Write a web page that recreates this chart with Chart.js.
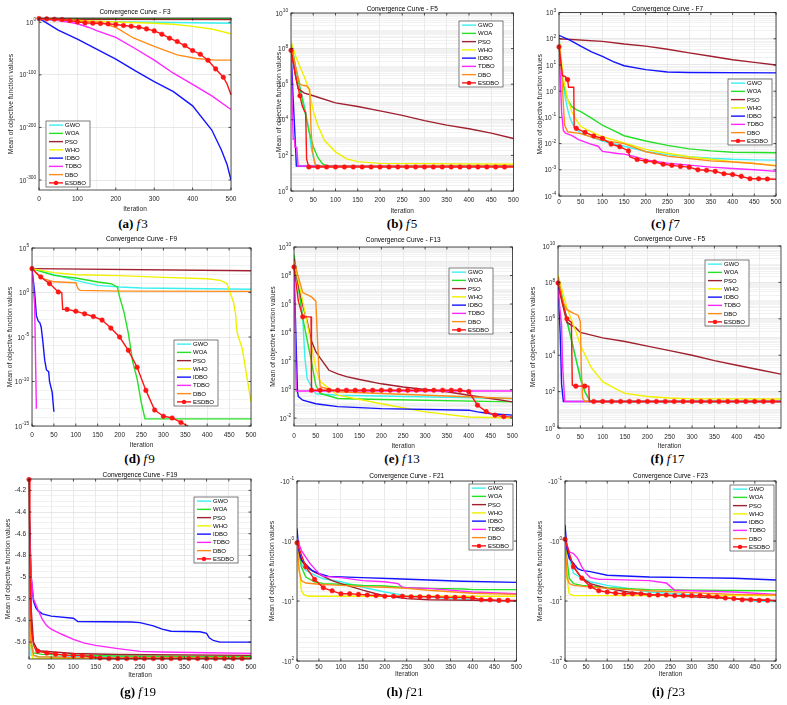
<!DOCTYPE html>
<html>
<head>
<meta charset="utf-8">
<script src="https://cdn.jsdelivr.net/npm/chart.js@4.4.1/dist/chart.umd.min.js"></script>
<style>
  body { margin: 0; background: #fff; width: 787px; height: 705px; position: relative; overflow: hidden; }
  canvas { position: absolute; }
  .cap { position: absolute; font-family: "Liberation Serif", "Times New Roman", serif; font-size: 13px;
         color: #000; white-space: nowrap; transform: translate(-50%, -50%); }
</style>
</head>
<body>
<script>
const algorithms = ["GWO", "WOA", "PSO", "WHO", "IDBO", "TDBO", "DBO", "ESDBO"];

// [iteration, log10(mean objective value)]; order follows `algorithms`
const f3 = [
  [[0,7],[20,4],[100,2],[300,0],[500,-2]],
  [[0,7],[500,6.8]],
  [[0,7],[100,5.5],[500,5]],
  [[0,7],[100,3.5],[200,0.5],[300,-2],[350,-4],[400,-8],[450,-13],[500,-22]],
  [[0,7],[10,3],[50,-15],[100,-32],[150,-51],[200,-70],[250,-92],[300,-113],[350,-132],[400,-159],[450,-205],[475,-243],[490,-271],[500,-300]],
  [[0,7],[50,3],[80,0],[100,-3],[130,-10],[150,-16],[200,-29],[250,-50],[300,-72],[350,-97],[400,-118],[450,-140],[500,-166]],
  [[0,7],[100,2],[160,0],[200,-10],[246,-30],[300,-46],[360,-62],[410,-69],[460,-72],[500,-72]],
  [[0,7],[20,6.3],[40,5.7],[60,5.1],[80,3.2],[100,0.6],[120,-1.3],[140,-1.9],[160,-2.5],[180,-3.2],[200,-4.4],[220,-6.3],[240,-7.6],[260,-9.5],[280,-12.7],[300,-16.5],[320,-22.8],[340,-30.4],[360,-36.8],[380,-44.4],[400,-53.9],[420,-60.9],[440,-72.3],[460,-88.8],[480,-104.6],[490,-118],[500,-138]]
];
const f5 = [
  [[0,8.3],[10,7],[20,5.8],[30,4.8],[40,3.5],[45,2.5],[50,1.9],[55,1.5],[60,1.4],[500,1.4]],
  [[0,8.4],[10,7],[20,5.8],[30,4.6],[40,3.4],[50,2.5],[60,1.9],[70,1.55],[80,1.4],[500,1.4]],
  [[0,8],[10,6.5],[16,5.75],[30,5.5],[50,5.35],[100,4.95],[150,4.75],[200,4.5],[250,4.25],[300,3.95],[350,3.7],[400,3.5],[450,3.25],[500,2.95]],
  [[0,8.4],[10,7.6],[20,7],[30,6.4],[40,5.75],[50,4.5],[60,3.7],[75,2.85],[100,2.2],[125,1.8],[150,1.65],[200,1.55],[500,1.5]],
  [[0,8],[5,5.1],[10,2.6],[12,1.4],[500,1.4]],
  [[0,8],[3,4.5],[5,2.9],[8,2.9],[9,2.45],[13,2.45],[16,1.4],[500,1.4]],
  [[0,8.2],[10,7],[20,6],[25,5.95],[35,5.9],[42,5.7],[45,3.5],[48,2.3],[55,1.4],[500,1.4]],
  [[0,7.9],[10,6.5],[20,5.35],[25,4.8],[30,4.5],[33,4.4],[35,1.8],[40,1.35],[60,1.35],[80,1.35],[100,1.35],[120,1.35],[140,1.35],[160,1.35],[180,1.35],[200,1.35],[220,1.35],[240,1.35],[260,1.35],[280,1.35],[300,1.35],[320,1.35],[340,1.35],[360,1.35],[380,1.35],[400,1.35],[420,1.35],[440,1.35],[460,1.35],[480,1.35],[500,1.35]]
];
const f7 = [
  [[0,2.1],[5,1.0],[10,0.2],[15,-0.3],[20,-0.7],[25,-1.0],[30,-1.2],[40,-1.45],[50,-1.6],[75,-1.75],[100,-1.9],[150,-2.1],[200,-2.3],[250,-2.42],[300,-2.5],[350,-2.56],[400,-2.6],[450,-2.62],[500,-2.63]],
  [[0,2.1],[4,1.0],[10,0.3],[20,-0.33],[30,-0.6],[40,-0.7],[50,-0.78],[75,-1.03],[100,-1.3],[125,-1.5],[150,-1.7],[200,-1.9],[250,-2.07],[300,-2.2],[350,-2.28],[400,-2.33],[500,-2.35]],
  [[0,2.0],[100,1.9],[150,1.8],[200,1.72],[250,1.6],[300,1.46],[350,1.33],[400,1.2],[450,1.1],[500,1.0]],
  [[0,2.0],[10,0.5],[20,-0.3],[30,-0.8],[40,-1.1],[50,-1.35],[75,-1.55],[100,-1.74],[150,-1.97],[200,-2.22],[250,-2.37],[300,-2.5],[350,-2.6],[400,-2.69],[450,-2.76],[500,-2.83]],
  [[0,2.13],[25,1.95],[50,1.72],[75,1.5],[100,1.33],[125,1.13],[150,0.97],[200,0.82],[250,0.73],[300,0.71],[500,0.7]],
  [[0,1.9],[3,0.5],[6,-0.8],[10,-1.5],[15,-1.6],[30,-1.7],[45,-1.85],[70,-2.0],[90,-2.1],[100,-2.3],[135,-2.38],[150,-2.4],[175,-2.5],[200,-2.62],[250,-2.75],[300,-2.82],[350,-2.9],[400,-2.95],[450,-3.0],[500,-3.06]],
  [[0,2.0],[5,1.0],[10,-0.5],[13,-1.3],[20,-1.55],[50,-1.62],[75,-1.75],[100,-1.87],[150,-2.0],[200,-2.31],[250,-2.48],[300,-2.57],[350,-2.66],[400,-2.7],[450,-2.76],[500,-2.85]],
  [[0,1.69],[8,0.6],[15,0.55],[16,0.44],[20,0.44],[22,0.15],[34,0.15],[35,-1.38],[40,-1.42],[60,-1.57],[80,-1.71],[100,-1.8],[120,-2.02],[140,-2.12],[160,-2.28],[163,-2.5],[180,-2.61],[200,-2.67],[220,-2.7],[240,-2.79],[260,-2.83],[280,-2.87],[300,-2.9],[320,-3.0],[340,-3.02],[360,-3.06],[380,-3.15],[400,-3.18],[420,-3.25],[440,-3.34],[460,-3.34],[480,-3.35],[500,-3.36]]
];
const f9 = [
  [[0,2.68],[50,2.0],[100,1.37],[150,0.8],[200,0.62],[250,0.5],[500,0.36]],
  [[0,2.68],[50,1.93],[100,1.63],[150,1.18],[180,0.99],[195,0.62],[200,-0.5],[210,-2.2],[220,-4.6],[230,-7.8],[240,-9.7],[250,-12.5],[258,-14.2],[500,-14.2]],
  [[0,2.68],[500,2.45]],
  [[0,2.68],[50,2.23],[100,2.0],[200,1.9],[300,1.7],[400,1.55],[430,1.37],[445,1.0],[452,0.0],[460,-1.07],[465,-2.5],[467,-4.06],[470,-4.8],[480,-6.3],[490,-9.3],[500,-12.3]],
  [[0,2.68],[6,0.05],[10,-2.6],[14,-3.2],[18,-3.4],[21,-3.9],[25,-5.6],[29,-7.6],[33,-8.7],[38,-8.9],[40,-10],[46,-11.2],[50,-13.4]],
  [[0,2.68],[6,-1.44],[10,-13.05]],
  [[0,2.68],[20,1.63],[50,1.2],[100,1.1],[105,0.43],[110,0.24],[200,0.15],[500,0.13]],
  [[0,2.68],[20,1.74],[40,1.0],[60,0.06],[68,0.0],[70,-1.9],[80,-1.9],[100,-2.1],[120,-2.4],[140,-2.7],[160,-3.1],[180,-4.0],[200,-5.0],[220,-6.5],[240,-8.4],[260,-11.0],[280,-13.2],[300,-13.9],[320,-14.1],[340,-14.6],[356,-15.0]]
];
const f13 = [
  [[0,8.5],[10,7.3],[20,5.0],[25,2.2],[30,0.77],[40,0.2],[50,-0.3],[100,-0.4],[500,-0.63]],
  [[0,9.5],[20,5],[40,1.95],[50,0.3],[60,-0.28],[100,-0.63],[200,-0.7],[500,-0.87]],
  [[0,9.2],[10,7.35],[20,5.9],[30,4.8],[40,3.4],[50,2.65],[60,2.2],[80,1.35],[100,1.1],[120,0.9],[150,0.7],[200,0.4],[250,0.18],[300,0.0],[350,-0.16],[400,-0.4],[450,-0.63],[500,-0.87]],
  [[0,9.0],[20,6.2],[40,3.1],[50,1.5],[60,0.55],[100,-0.4],[200,-1.0],[300,-1.57],[400,-1.93],[500,-2.0]],
  [[0,8.5],[8,-0.16],[10,-0.5],[20,-0.75],[50,-1.0],[100,-1.2],[200,-1.34],[400,-1.45],[420,-1.57],[450,-1.7],[500,-1.8]],
  [[0,8.8],[5,-0.1],[500,-0.1]],
  [[0,9.0],[20,6.8],[40,6.5],[50,6.2],[55,2.65],[58,0.8],[60,0.2],[100,-0.16],[200,-0.28],[500,-0.63]],
  [[0,8.6],[10,6.2],[20,5.1],[39,5.1],[40,-0.05],[60,-0.05],[80,-0.05],[100,-0.05],[120,-0.05],[140,-0.05],[160,-0.05],[180,-0.05],[200,-0.05],[220,-0.05],[240,-0.05],[260,-0.05],[280,-0.05],[300,-0.05],[320,-0.05],[340,-0.05],[360,-0.05],[380,-0.05],[400,-0.15],[405,-0.4],[420,-1.1],[440,-1.55],[460,-1.8],[480,-1.9],[500,-1.92]]
];
const f17 = [
  [[0,8.2],[20,6.0],[40,3.8],[50,2.9],[60,2.0],[70,1.55],[75,1.46],[499,1.46]],
  [[0,8.4],[20,5.85],[40,3.8],[50,2.7],[60,2.0],[70,1.55],[75,1.46],[499,1.46]],
  [[0,7.85],[20,5.8],[40,5.5],[50,5.25],[100,4.95],[150,4.75],[200,4.5],[250,4.25],[300,4.0],[350,3.7],[400,3.45],[450,3.2],[499,2.96]],
  [[0,8.4],[20,6.6],[40,5.3],[50,4.55],[75,3.3],[100,2.55],[125,2.2],[150,1.9],[200,1.73],[250,1.65],[300,1.6],[499,1.59]],
  [[0,8.0],[5,5.1],[8,2.4],[12,1.46],[499,1.46]],
  [[0,7.6],[8,5.65],[10,3.6],[15,1.46],[499,1.46]],
  [[0,8.3],[10,7.0],[20,6.5],[35,6.3],[45,6.2],[50,5.85],[52,3.3],[55,1.64],[60,1.46],[499,1.46]],
  [[0,7.97],[10,6.9],[20,6.0],[30,5.8],[32,2.35],[40,2.3],[60,2.3],[69,2.3],[70,1.46],[80,1.46],[100,1.46],[120,1.46],[140,1.46],[160,1.46],[180,1.46],[200,1.46],[220,1.46],[240,1.46],[260,1.46],[280,1.46],[300,1.46],[320,1.46],[340,1.46],[360,1.46],[380,1.46],[400,1.46],[420,1.46],[440,1.46],[460,1.46],[480,1.46],[499,1.46]]
];
// f19 holds plain mean values (linear axis)
const f19 = [
  [[0,-4.3],[3,-5.4],[5,-5.72],[20,-5.733],[500,-5.738]],
  [[0,-4.3],[5,-5.6],[10,-5.7],[30,-5.713],[100,-5.72],[200,-5.729],[500,-5.735]],
  [[0,-4.2],[5,-5.3],[10,-5.6],[20,-5.68],[100,-5.705],[200,-5.715],[500,-5.723]],
  [[0,-4.3],[3,-5.6],[8,-5.745],[10,-5.752],[500,-5.752]],
  [[0,-4.35],[5,-5.0],[10,-5.22],[15,-5.28],[20,-5.31],[30,-5.34],[50,-5.36],[100,-5.38],[110,-5.41],[230,-5.415],[250,-5.42],[280,-5.45],[300,-5.48],[320,-5.5],[385,-5.505],[400,-5.52],[406,-5.56],[415,-5.585],[430,-5.6],[500,-5.6]],
  [[0,-4.5],[5,-5.0],[10,-5.2],[20,-5.3],[30,-5.39],[40,-5.45],[50,-5.48],[60,-5.5],[75,-5.53],[100,-5.575],[125,-5.61],[150,-5.63],[200,-5.66],[250,-5.686],[300,-5.692],[400,-5.698],[500,-5.704]],
  [[0,-4.2],[4,-5.6],[10,-5.72],[20,-5.735],[100,-5.745],[500,-5.748]],
  [[0,-4.1],[2,-4.8],[4,-5.3],[6,-5.5],[10,-5.62],[15,-5.67],[20,-5.683],[40,-5.701],[60,-5.711],[80,-5.72],[100,-5.723],[120,-5.725],[140,-5.735],[160,-5.747],[180,-5.752],[200,-5.752],[220,-5.752],[240,-5.752],[260,-5.752],[280,-5.752],[300,-5.752],[320,-5.752],[340,-5.752],[360,-5.752],[380,-5.752],[400,-5.752],[420,-5.752],[440,-5.752],[460,-5.752],[480,-5.752],[500,-5.752]]
];
// f21 / f23: values are negative, stored as log10(|mean|)
const f21 = [
  [[0,0.03],[10,0.38],[20,0.49],[40,0.57],[60,0.63],[100,0.68],[150,0.77],[200,0.85],[250,0.91],[300,0.93],[350,0.96],[400,0.98],[450,0.99],[500,1.0]],
  [[0,0.02],[10,0.43],[20,0.6],[40,0.68],[60,0.71],[100,0.72],[150,0.74],[200,0.75],[250,0.78],[300,0.79],[380,0.8],[400,0.81],[500,0.81]],
  [[0,0.1],[10,0.32],[20,0.43],[40,0.52],[60,0.59],[80,0.66],[100,0.71],[150,0.82],[180,0.88],[200,0.91],[250,0.96],[300,0.98],[400,0.99],[500,1.0]],
  [[0,0.05],[5,0.49],[10,0.82],[15,0.89],[25,0.92],[500,0.92]],
  [[0,-0.21],[4,0.16],[11,0.32],[34,0.49],[49,0.54],[72,0.59],[148,0.61],[223,0.63],[300,0.65],[375,0.67],[500,0.69]],
  [[0,-0.04],[10,0.16],[20,0.27],[30,0.38],[40,0.46],[50,0.54],[60,0.59],[100,0.61],[150,0.66],[200,0.68],[230,0.71],[240,0.77],[250,0.78],[300,0.79],[400,0.85],[500,0.88]],
  [[0,0.05],[5,0.49],[10,0.66],[20,0.7],[50,0.72],[100,0.74],[150,0.76],[200,0.77],[250,0.79],[300,0.82],[400,0.87],[500,0.89]],
  [[0,0.03],[20,0.43],[40,0.64],[60,0.78],[80,0.83],[100,0.88],[120,0.88],[140,0.89],[160,0.9],[180,0.91],[200,0.92],[220,0.92],[240,0.92],[260,0.93],[280,0.93],[300,0.93],[320,0.93],[340,0.94],[360,0.94],[380,0.94],[400,0.95],[420,0.98],[440,0.98],[460,0.99],[480,0.99],[500,0.99]]
];
const f23 = [
  [[0,0.0],[10,0.27],[20,0.54],[40,0.62],[60,0.68],[100,0.74],[150,0.79],[200,0.85],[300,0.9],[350,0.93],[400,0.96],[450,1.0],[500,1.01]],
  [[0,0.0],[10,0.62],[20,0.71],[40,0.74],[100,0.78],[200,0.81],[300,0.82],[500,0.83]],
  [[0,0.05],[20,0.43],[40,0.62],[60,0.71],[100,0.79],[150,0.85],[200,0.89],[300,0.93],[400,0.96],[500,0.99]],
  [[0,0.05],[5,0.65],[10,0.88],[20,0.91],[500,0.91]],
  [[0,-0.27],[5,0.15],[10,0.29],[20,0.37],[30,0.46],[40,0.49],[60,0.51],[100,0.57],[200,0.6],[300,0.61],[400,0.62],[500,0.65]],
  [[0,-0.04],[10,0.18],[20,0.21],[30,0.29],[40,0.43],[50,0.54],[60,0.61],[80,0.64],[100,0.64],[200,0.66],[240,0.7],[250,0.76],[260,0.82],[300,0.83],[400,0.85],[500,0.89]],
  [[0,0.0],[5,0.6],[10,0.71],[20,0.74],[50,0.76],[100,0.79],[200,0.83],[300,0.86],[360,0.88],[400,0.89],[500,0.9]],
  [[0,-0.03],[20,0.43],[40,0.62],[60,0.76],[80,0.83],[100,0.85],[120,0.87],[140,0.88],[160,0.88],[180,0.88],[200,0.9],[220,0.9],[240,0.9],[260,0.91],[280,0.91],[300,0.91],[320,0.91],[340,0.92],[360,0.93],[380,0.95],[400,0.96],[420,0.98],[440,0.98],[460,0.99],[480,0.99],[500,1.0]]
];

const lineColors = ["#3cf0f0", "#25e025", "#a0202e", "#f0f000", "#1414ff", "#ff26ff", "#ff8c1a", "#ff1414"];
const FONT = '"Liberation Sans", Arial, Helvetica, sans-serif';
const AXIS_COLOR = "#262626";

// page layout of each panel (plot box, text rows, legend box)
const panels = [
  { data: f3,  title: "Convergence Curve - F3",  cap: ["(a)", "3"],  col: 0, row: 0, L: 39,  T: 18,  R: 231, B: 190, titleY: 12,  yTitleX: 11.5, tickY: 199, iterY: 209,
    y: { kind: "log", min: -319, max: 8, labels: [-300, -200, -100, 0], minor: "none" }, xMax: 500, xStep: 100, legend: [46, 121] },
  { data: f5,  title: "Convergence Curve - F5",  cap: ["(b)", "5"],  col: 1, row: 0, L: 291, T: 13,  R: 517, B: 191, titleY: 9.5, yTitleX: 279, tickY: 200, iterY: 211,
    y: { kind: "log", min: 0, max: 10, every: 2, minor: "full" }, xMax: 500, xStep: 50, legend: [459, 21] },
  { data: f7,  title: "Convergence Curve - F7",  cap: ["(c)", "7"],  col: 2, row: 0, L: 559, T: 12.5, R: 776, B: 196, titleY: 9.3, yTitleX: 540, tickY: 202, iterY: 211,
    y: { kind: "log", min: -4, max: 3, every: 1, minor: "full" }, xMax: 500, xStep: 50, legend: [728, 79] },
  { data: f9,  title: "Convergence Curve - F9",  cap: ["(d)", "9"],  col: 0, row: 1, L: 32,  T: 248, R: 251, B: 426, titleY: 239, yTitleX: 10, tickY: 435, iterY: 445,
    y: { kind: "log", min: -15, max: 5, every: 5, minor: "decade" }, xMax: 500, xStep: 50, legend: [174, 340] },
  { data: f13, title: "Convergence Curve - F13", cap: ["(e)", "13"], col: 1, row: 1, L: 294, T: 247, R: 514, B: 426, titleY: 240, yTitleX: 273.5, tickY: 436, iterY: 446,
    y: { kind: "log", min: -2.56, max: 10, every: 2, minor: "full" }, xMax: 500, xStep: 50, legend: [449, 268] },
  { data: f17, title: "Convergence Curve - F5",  cap: ["(f)", "17"], col: 2, row: 1, L: 558, T: 246, R: 781, B: 428, titleY: 239, yTitleX: 533, tickY: 437, iterY: 446,
    y: { kind: "log", min: 0, max: 10, every: 2, minor: "full" }, xMax: 499, xStep: 50, legend: [705, 260] },
  { data: f19, title: "Convergence Curve - F19", cap: ["(g)", "19"], col: 0, row: 2, L: 29,  T: 479, R: 251, B: 659, titleY: 475, yTitleX: 8.5, tickY: 667, iterY: 675,
    y: { kind: "linear", min: -5.756, max: -4.095, step: 0.05, labelStep: 0.2 }, xMax: 500, xStep: 50, legend: [194, 497] },
  { data: f21, title: "Convergence Curve - F21", cap: ["(h)", "21"], col: 1, row: 2, L: 297, T: 481, R: 517, B: 661, titleY: 476, yTitleX: 272, tickY: 667, iterY: 674,
    y: { kind: "neglog", min: -1, max: 2, every: 1, minor: "full" }, xMax: 500, xStep: 50, legend: [469, 484] },
  { data: f23, title: "Convergence Curve - F23", cap: ["(i)", "23"], col: 2, row: 2, L: 565, T: 481, R: 776, B: 661, titleY: 476, yTitleX: 540, tickY: 667, iterY: 674,
    y: { kind: "neglog", min: -1, max: 2, every: 1, minor: "full" }, xMax: 500, xStep: 50, legend: [730, 485] }
];
const COL_X = [0, 262, 524];
const ROW_Y = [0, 235, 470];
const COL_W = [262, 262, 263];
const CAP_Y = [224, 459, 692];
const CANVAS_H = 216;

function isLabeledDecade(y, d) {
  return y.labels ? y.labels.includes(d) : d % y.every === 0;
}

function yTickValues(y) {
  const vals = [];
  if (y.kind === "linear") {
    for (let k = Math.ceil(y.min / y.step); k <= Math.floor(y.max / y.step); k++) vals.push(+(k * y.step).toFixed(4));
    return vals;
  }
  for (let d = Math.floor(y.min); d <= Math.ceil(y.max); d++) {
    const ms = y.minor === "full" ? [1, 2, 3, 4, 5, 6, 7, 8, 9] : [1];
    for (const m of ms) {
      const e = d + Math.log10(m);
      if (e < y.min - 1e-9 || e > y.max + 1e-9) continue;
      if (y.minor === "none" && !isLabeledDecade(y, d)) continue;
      vals.push(m * Math.pow(10, d));
    }
  }
  return vals;
}

// label text for a y tick; log labels keep the exponent after "^" so it can be drawn raised
function yTickLabel(y, v) {
  if (y.kind === "linear") {
    const r = v / y.labelStep;
    return Math.abs(r - Math.round(r)) < 1e-6 ? String(+v.toFixed(1)) : "";
  }
  const e = Math.log10(v);
  const d = Math.round(e);
  if (Math.abs(e - d) > 1e-6 || !isLabeledDecade(y, d)) return "";
  return (y.kind === "neglog" ? "-" : "") + "10^" + d;
}

// box legend drawn inside the plot area, MATLAB style
const boxLegend = {
  id: "boxLegend",
  afterDatasetsDraw(chart, args, opts) {
    const ctx = chart.ctx;
    const x0 = opts.x, y0 = opts.y, w = 44, h = 66, rowH = h / algorithms.length;
    ctx.save();
    ctx.fillStyle = "#fff";
    ctx.fillRect(x0, y0, w, h);
    ctx.strokeStyle = AXIS_COLOR;
    ctx.lineWidth = 0.6;
    ctx.strokeRect(x0, y0, w, h);
    ctx.font = "6px " + FONT;
    ctx.textBaseline = "middle";
    algorithms.forEach((name, i) => {
      const yy = y0 + rowH * (i + 0.5);
      ctx.strokeStyle = lineColors[i];
      ctx.lineWidth = 1.4;
      ctx.beginPath();
      ctx.moveTo(x0 + 3, yy);
      ctx.lineTo(x0 + 17, yy);
      ctx.stroke();
      if (name === "ESDBO") {
        ctx.fillStyle = lineColors[i];
        ctx.beginPath();
        ctx.arc(x0 + 10, yy, 2.2, 0, Math.PI * 2);
        ctx.fill();
      }
      ctx.fillStyle = "#000";
      ctx.fillText(name, x0 + 19, yy + 0.3);
    });
    ctx.restore();
  }
};

// full box around the axes, inward tick marks and y labels with raised exponents
const axesBox = {
  id: "axesBox",
  afterDraw(chart) {
    const { ctx, chartArea: a, scales } = chart;
    ctx.save();
    ctx.strokeStyle = AXIS_COLOR;
    ctx.lineWidth = 0.8;
    ctx.strokeRect(a.left, a.top, a.right - a.left, a.bottom - a.top);
    ctx.beginPath();
    scales.x.ticks.forEach(t => {
      if (!t.label) return;
      const p = scales.x.getPixelForValue(t.value);
      ctx.moveTo(p, a.bottom); ctx.lineTo(p, a.bottom - 2.5);
      ctx.moveTo(p, a.top); ctx.lineTo(p, a.top + 2.5);
    });
    scales.y.ticks.forEach(t => {
      if (!t.label) return;
      const p = scales.y.getPixelForValue(t.value);
      ctx.moveTo(a.left, p); ctx.lineTo(a.left + 2.5, p);
      ctx.moveTo(a.right, p); ctx.lineTo(a.right - 2.5, p);
    });
    ctx.stroke();

    ctx.fillStyle = AXIS_COLOR;
    ctx.textBaseline = "middle";
    const xr = a.left - 3;
    scales.y.ticks.forEach(t => {
      if (!t.label) return;
      const p = scales.y.getPixelForValue(t.value);
      const parts = String(t.label).split("^");
      if (parts.length === 1) {
        ctx.font = "6.5px " + FONT;
        ctx.textAlign = "right";
        ctx.fillText(parts[0], xr, p);
        return;
      }
      ctx.textAlign = "left";
      ctx.font = "4.8px " + FONT;
      const we = ctx.measureText(parts[1]).width;
      ctx.font = "6.5px " + FONT;
      const wb = ctx.measureText(parts[0]).width;
      const xs = xr - we - wb;
      ctx.fillText(parts[0], xs, p + 0.8);
      ctx.font = "4.8px " + FONT;
      ctx.fillText(parts[1], xs + wb + 0.2, p - 2.2);
    });
    ctx.restore();
  }
};

Chart.defaults.font.family = FONT;
Chart.defaults.color = AXIS_COLOR;

panels.forEach(p => {
  const x0 = COL_X[p.col], y0 = ROW_Y[p.row], W = COL_W[p.col];
  const canvas = document.createElement("canvas");
  canvas.width = W;
  canvas.height = CANVAS_H;
  canvas.style.left = x0 + "px";
  canvas.style.top = y0 + "px";
  document.body.appendChild(canvas);

  const cap = document.createElement("div");
  cap.className = "cap";
  cap.style.left = ((p.L + p.R) / 2 - 2) + "px";
  cap.style.top = CAP_Y[p.row] + "px";
  cap.innerHTML = "<b>" + p.cap[0] + "</b> <i>f</i>&#8202;" + p.cap[1];
  document.body.appendChild(cap);

  const bottom = y0 + CANVAS_H;
  const titleLH = 6.5;
  const tickLH = 6.5 * 1.2;
  const yTitleLH = 6.8 * 1.2;
  const yKind = p.y.kind;
  const yVals = yTickValues(p.y);
  const xVals = [];
  for (let v = 0; v <= p.xMax; v += 50) xVals.push(v);

  const datasets = p.data.map((pairs, i) => {
    const name = algorithms[i];
    return {
      label: name,
      data: pairs.map(([x, v]) => ({ x, y: yKind === "linear" ? v : Math.pow(10, v) })),
      borderColor: lineColors[i],
      backgroundColor: lineColors[i],
      borderWidth: 1.4,
      pointRadius: name === "ESDBO" ? (c => (c.raw && c.raw.x % 20 === 0 && c.raw.x <= 480 ? 2.3 : 0)) : 0,
      pointBorderWidth: 0.5,
      pointHoverRadius: 0,
      tension: 0,
      order: algorithms.length - 1 - i,
      clip: name === "ESDBO" ? 3 : undefined
    };
  });

  new Chart(canvas, {
    type: "line",
    data: { datasets },
    plugins: [boxLegend, axesBox],
    options: {
      responsive: false,
      animation: false,
      devicePixelRatio: 1,
      events: [],
      layout: { padding: { left: 0, top: 0, bottom: 0, right: x0 + W - p.R } },
      scales: {
        x: {
          type: "linear",
          min: 0,
          max: p.xMax,
          afterBuildTicks: s => { s.ticks = xVals.map(v => ({ value: v })); },
          afterFit: s => { s.height = bottom - p.B; },
          ticks: {
            autoSkip: false, maxRotation: 0, color: AXIS_COLOR,
            font: { size: 6.5 },
            padding: p.tickY - p.B - tickLH / 2,
            callback: v => (v % p.xStep === 0 ? String(v) : "")
          },
          grid: {
            drawTicks: false, lineWidth: 0.6,
            color: c => (c.tick && c.tick.label !== "" ? "#dcdcdc" : "#ededed")
          },
          border: { display: false },
          title: {
            display: true, text: "Iteration", color: AXIS_COLOR,
            font: { size: 6.5 },
            padding: { top: 0, bottom: Math.max(0, bottom - p.iterY - tickLH / 2) }
          }
        },
        y: {
          type: yKind === "linear" ? "linear" : "logarithmic",
          min: yKind === "linear" ? p.y.min : Math.pow(10, p.y.min),
          max: yKind === "linear" ? p.y.max : Math.pow(10, p.y.max),
          reverse: yKind === "neglog",
          afterBuildTicks: s => { s.ticks = yVals.map(v => ({ value: v })); },
          afterFit: s => { s.width = p.L - x0; },
          ticks: {
            display: false, autoSkip: false,
            callback: v => yTickLabel(p.y, v)
          },
          grid: {
            drawTicks: false, lineWidth: 0.6,
            color: c => (c.tick && c.tick.label !== "" ? "#d8d8d8" : "#eaeaea")
          },
          border: { display: false },
          title: {
            display: true, text: "Mean of objective function values", color: AXIS_COLOR,
            font: { size: 6.8 },
            padding: { top: Math.max(0, p.yTitleX - x0 - yTitleLH / 2), bottom: 0 }
          }
        }
      },
      plugins: {
        legend: { display: false },
        tooltip: { enabled: false },
        title: {
          display: true, text: p.title, color: "#000", fullSize: false,
          font: { size: 6.5, weight: "normal", lineHeight: 1 },
          padding: { top: Math.max(0, p.titleY - y0 - titleLH / 2), bottom: Math.max(0, p.T - p.titleY - titleLH / 2) }
        },
        boxLegend: { x: p.legend[0] - x0, y: p.legend[1] - y0 }
      }
    }
  });
});
</script>
</body>
</html>
